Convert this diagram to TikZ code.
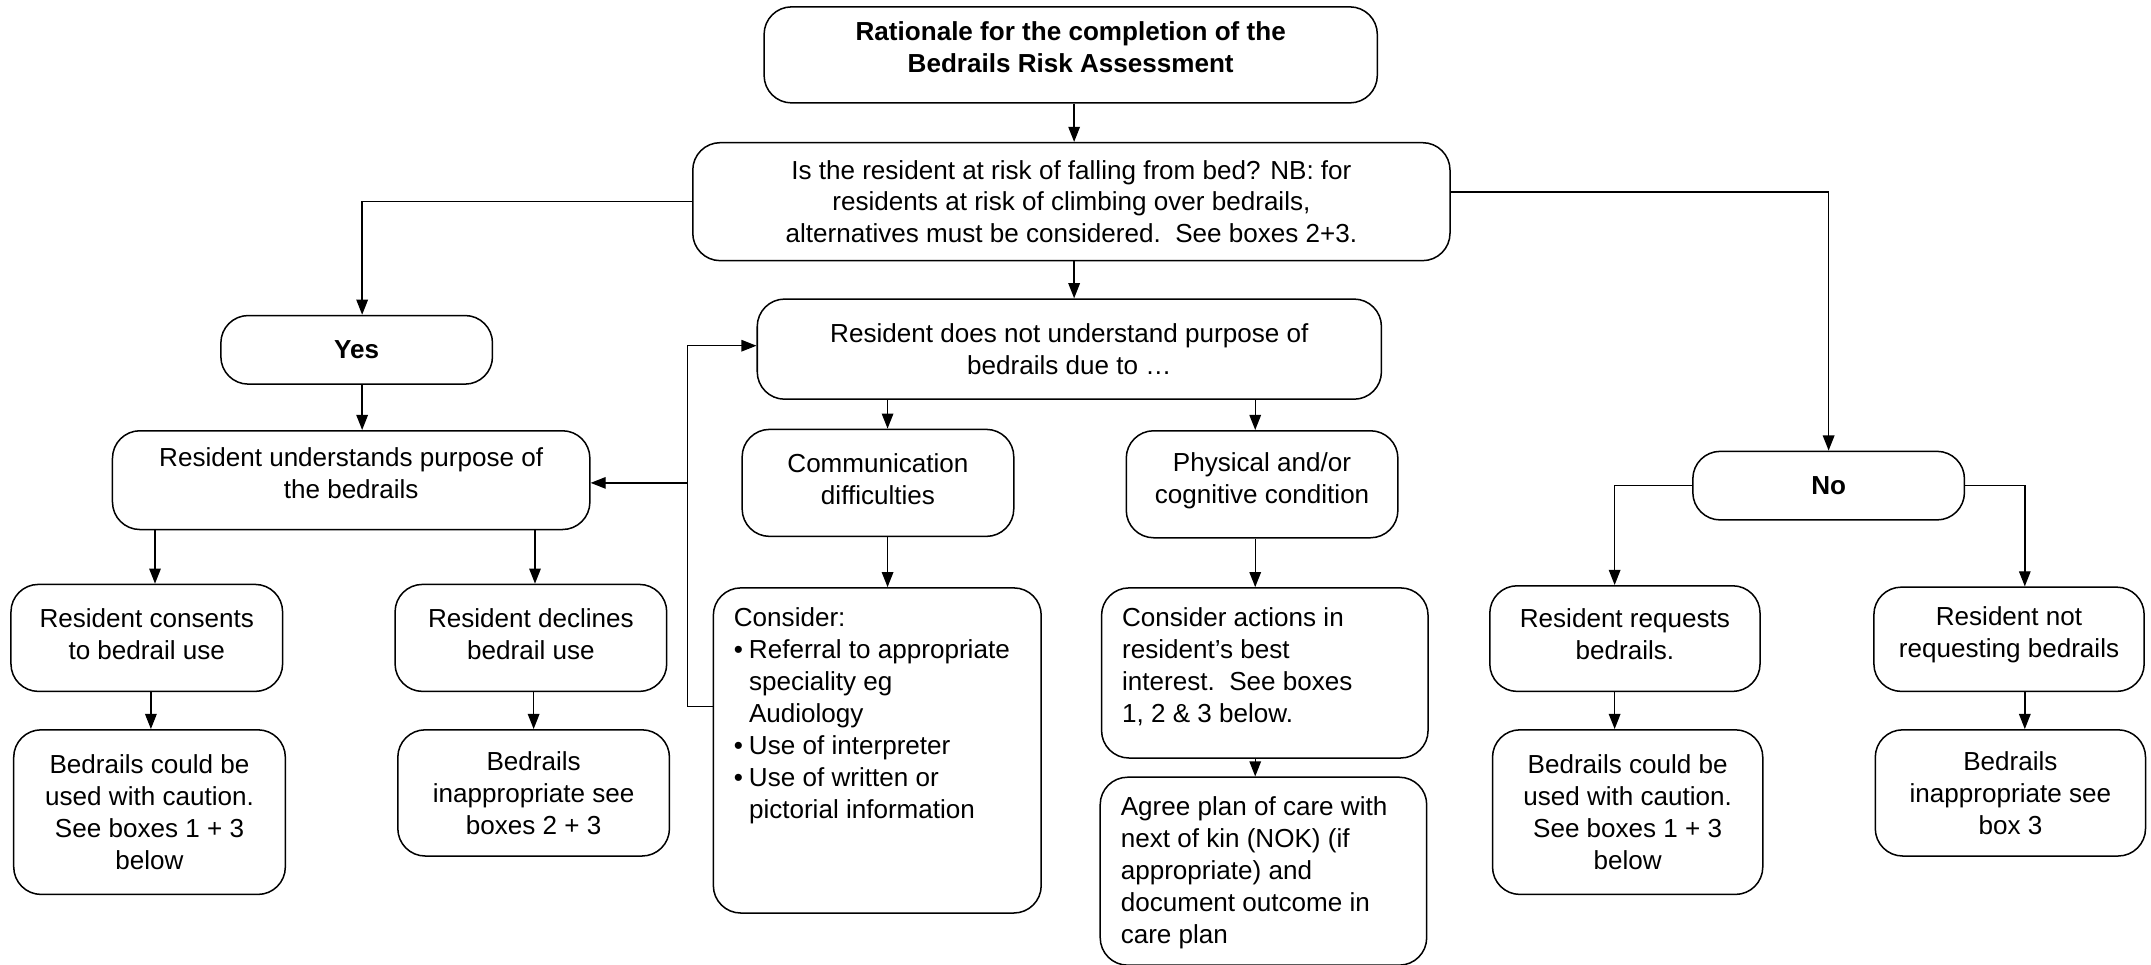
\documentclass[tikz,border=0pt]{standalone}
\usepackage{fontspec}
\setmainfont{Liberation Sans}
\usetikzlibrary{arrows.meta,calc}
\newcommand{\fsz}{\fontsize{9.5pt}{11.65pt}\selectfont}
\newcommand{\bul}{\makebox[5.5pt][l]{•}}
\newcommand{\ind}{\hspace*{5.5pt}}
\begin{document}
\begin{tikzpicture}[x=0.5pt,y=-0.5pt,
  every node/.style={font=\fsz},
  box/.style={draw, line width=0.55pt, rounded corners=10pt, align=center, inner sep=0pt},
  bf/.style={font=\fsz\bfseries},
  sz/.style 2 args={minimum width=#1*0.5pt, minimum height=#2*0.5pt},
  lift/.style={execute at end node={\rule[-#1]{0pt}{#1}}},
  arr/.style={line width=0.5pt, -{Triangle[length=5.5pt,width=4.2pt]}},
  ln/.style={line width=0.5pt}]
\useasboundingbox (0,0) rectangle (1568,703);

% boxes
\node[box, bf, sz={447}{70}, lift=5.5pt] (title) at (780.5,40) {Rationale for the completion of the\\Bedrails Risk Assessment};
\node[box, sz={552}{86}] (q) at (781,147) {Is the resident at risk of falling from bed? NB: for\\residents at risk of climbing over bedrails,\\alternatives must be considered.\ \ See boxes 2+3.};
\node[box, bf, sz={198}{50}] (yes) at (260,255) {Yes};
\node[box, sz={455}{73}] (dnu) at (779.5,254.5) {Resident does not understand purpose of\\bedrails due to …};
\node[box, sz={348}{72}, lift=5pt] (und) at (256,350) {Resident understands purpose of\\the bedrails};
\node[box, sz={198}{78}, lift=3pt] (comm) at (640,352) {Communication\\difficulties};
\node[box, sz={198}{78}, lift=4.5pt] (phys) at (920,353) {Physical and/or\\cognitive condition};
\node[box, bf, sz={198}{50}] (no) at (1333,354) {No};
\node[box, sz={198}{78}, lift=3pt] (cons) at (107,465) {Resident consents\\to bedrail use};
\node[box, sz={198}{78}, lift=3pt] (decl) at (387,465) {Resident declines\\bedrail use};
\node[box, sz={197}{77}, lift=3pt] (req) at (1184.5,465.5) {Resident requests\\bedrails.};
\node[box, sz={197}{76}, lift=5pt] (notreq) at (1464.5,466) {Resident not\\requesting bedrails};
\node[box, sz={198}{120}] (bc1) at (109,592) {Bedrails could be\\used with caution.\\See boxes 1 + 3\\below};
\node[box, sz={198}{92}] (bi1) at (389,578) {Bedrails\\inappropriate see\\boxes 2 + 3};
\node[box, sz={197}{120}] (bc2) at (1186.5,592) {Bedrails could be\\used with caution.\\See boxes 1 + 3\\below};
\node[box, sz={197}{92}] (bi2) at (1465.5,578) {Bedrails\\inappropriate see\\box 3};

\node[box, align=left, inner xsep=7.5pt, sz={239}{237}, anchor=north] (consider) at (639.5,428)
 {\begin{minipage}[t][118.5pt][t]{104.5pt}\raggedright
 \rule{0pt}{14pt}Consider:\\
 \bul Referral to appropriate\\
 \ind speciality eg\\
 \ind Audiology\\
 \bul Use of interpreter\\
 \bul Use of written or\\
 \ind pictorial information
 \end{minipage}};
\node[box, align=left, inner xsep=7.5pt, sz={238}{124}, anchor=north] (actions) at (922,428)
 {\begin{minipage}[t][62pt][t]{104pt}\raggedright
 \rule{0pt}{14pt}Consider actions in\\
 resident’s best\\
 interest.\ \ See boxes\\
 1, 2 \& 3 below.
 \end{minipage}};
\node[box, align=left, inner xsep=7.5pt, sz={238}{137}, anchor=north] (agree) at (921,566)
 {\begin{minipage}[t][68.5pt][t]{104pt}\raggedright
 \rule{0pt}{14pt}Agree plan of care with\\
 next of kin (NOK) (if\\
 appropriate) and\\
 document outcome in\\
 care plan
 \end{minipage}};

% helper coordinates
\coordinate (xA) at (113,0);
\coordinate (xB) at (390,0);
\coordinate (xC) at (110,0);
\coordinate (xD) at (389,0);
\coordinate (xE) at (647,0);
\coordinate (xF) at (915,0);
\coordinate (xG) at (1177,0);
\coordinate (xH) at (1476,0);
\coordinate (xT) at (783,0);
\coordinate (fbT) at (501,252);
\coordinate (fbM) at (501,352);
\coordinate (fbB) at (501,515);

% connectors
\draw[arr] (title.south -| xT) -- (q.north -| xT);
\draw[arr] (q.west) -| ([xshift=2pt]yes.north);
\draw[arr] ([yshift=3.5pt]q.east) -| (no.north);
\draw[arr] (q.south -| xT) -- (dnu.north -| xT);
\draw[arr] ([xshift=2pt]yes.south) -- ([xshift=2pt]yes.south |- und.north);
\draw[arr] (und.south -| xA) -- (cons.north -| xA);
\draw[arr] (und.south -| xB) -- (decl.north -| xB);
\draw[arr] (cons.south -| xC) -- (bc1.north -| xC);
\draw[arr] (decl.south -| xD) -- (bi1.north -| xD);
\draw[arr] (dnu.south -| xE) -- (comm.north -| xE);
\draw[arr] (dnu.south -| xF) -- (phys.north -| xF);
\draw[arr] (comm.south -| xE) -- (consider.north -| xE);
\draw[arr] (phys.south -| xF) -- (actions.north -| xF);
\draw[arr] (actions.south -| xF) -- (agree.north -| xF);
\draw[arr] (no.west) -| (req.north -| xG);
\draw[arr] (no.east) -| (notreq.north -| xH);
\draw[arr] (req.south -| xG) -- (bc2.north -| xG);
\draw[arr] (notreq.south -| xH) -- (bi2.north -| xH);
\draw[ln] (consider.west |- fbB) -- (fbB) -- (fbT);
\draw[arr] (fbT) -- (fbT -| dnu.west);
\draw[arr] (fbM) -- (fbM -| und.east);
\end{tikzpicture}
\end{document}
